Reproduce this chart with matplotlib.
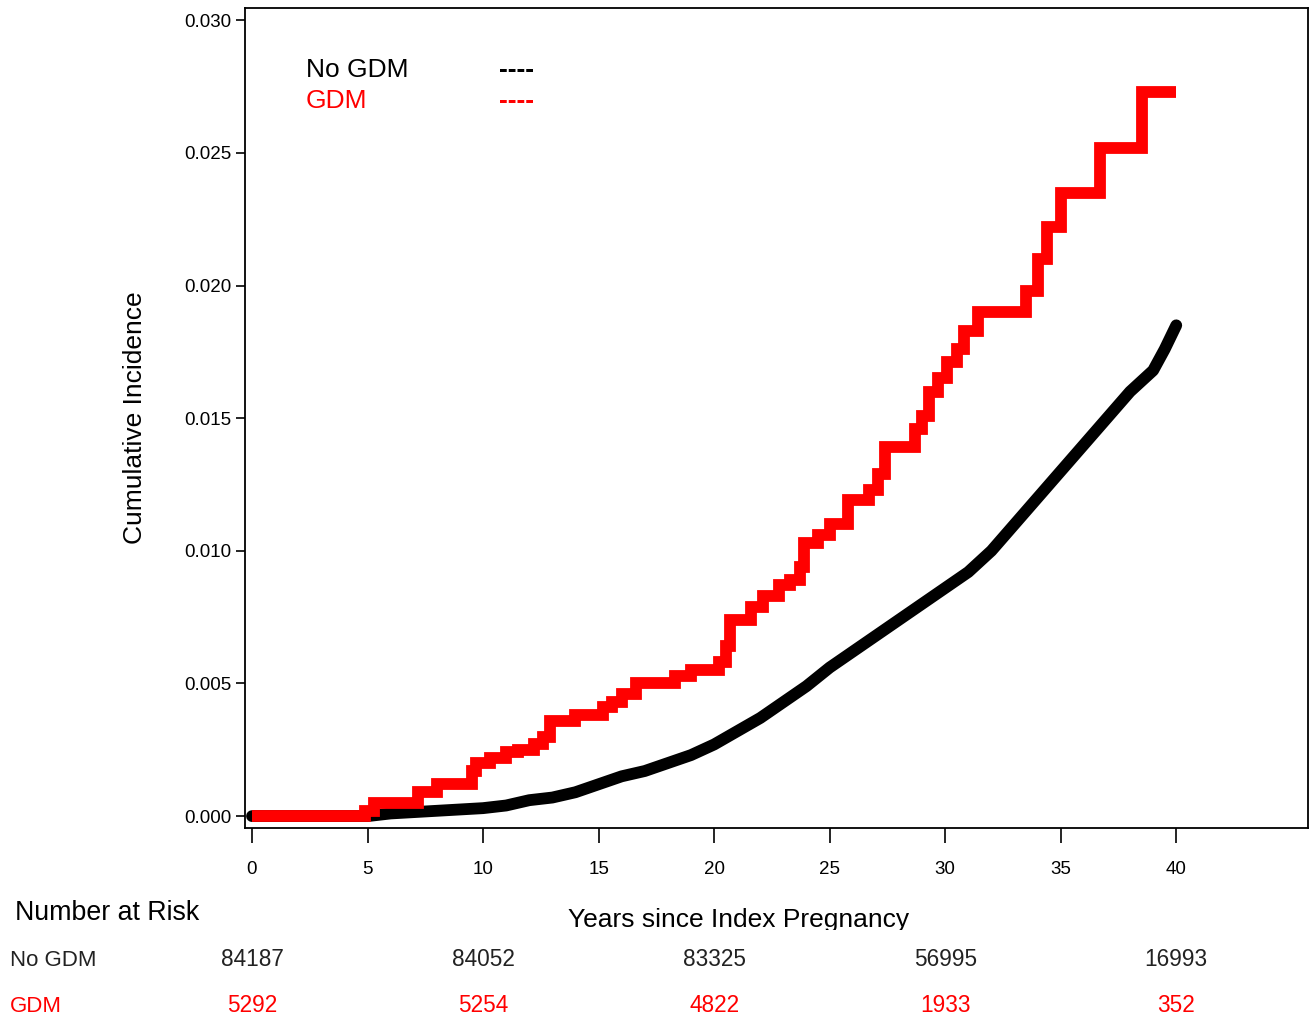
import matplotlib
matplotlib.use('Agg')
import matplotlib.pyplot as plt
from matplotlib.transforms import Bbox, blended_transform_factory

plt.rcParams['font.family'] = ['Liberation Sans', 'DejaVu Sans']

# GDM cumulative incidence (step changes)
red_t = [0, 4.9, 5.3, 7.2, 8.0, 9.5, 9.7, 10.3, 11.0, 11.5, 12.2, 12.6, 12.9, 14.0, 15.2,
         15.6, 16.0, 16.6, 18.3, 19.0, 20.2, 20.5, 20.7, 21.6, 22.1, 22.8, 23.3, 23.7, 23.9,
         24.5, 25.0, 25.8, 26.7, 27.1, 27.4, 28.7, 29.0, 29.3, 29.7, 30.1, 30.5, 30.8, 31.4,
         33.5, 34.0, 34.4, 35.0, 36.7, 38.5, 40.0]
red_v = [0, 0.0002, 0.0005, 0.0009, 0.0012, 0.0017, 0.0020, 0.0022, 0.0024, 0.0025, 0.0027,
         0.0030, 0.0036, 0.0038, 0.0041, 0.0043, 0.0046, 0.0050, 0.0053, 0.0055, 0.0058,
         0.0064, 0.0074, 0.0079, 0.0083, 0.0087, 0.0089, 0.0094, 0.0103, 0.0106, 0.0110,
         0.0119, 0.0123, 0.0129, 0.0139, 0.0146, 0.0151, 0.0160, 0.0165, 0.0171, 0.0176,
         0.0183, 0.0190, 0.0198, 0.0210, 0.0222, 0.0235, 0.0252, 0.0273, 0.0273]

# No GDM cumulative incidence
black_t = [0, 5, 6, 7, 8, 9, 10, 11, 12, 13, 14, 15, 16, 17, 18, 19, 20, 21, 22, 23, 24, 25,
           26, 27, 28, 29, 30, 31, 32, 33, 34, 35, 36, 37, 38, 39, 39.5, 40]
black_v = [0, 0, 0.0001, 0.00015, 0.0002, 0.00025, 0.0003, 0.0004, 0.0006, 0.0007, 0.0009,
           0.0012, 0.0015, 0.0017, 0.0020, 0.0023, 0.0027, 0.0032, 0.0037, 0.0043, 0.0049,
           0.0056, 0.0062, 0.0068, 0.0074, 0.0080, 0.0086, 0.0092, 0.0100, 0.0110, 0.0120,
           0.0130, 0.0140, 0.0150, 0.0160, 0.0168, 0.0176, 0.0185]

# number at risk
risk_years = [0, 10, 20, 30, 40]
risk_nogdm = ['84187', '84052', '83325', '56995', '16993']
risk_gdm = ['5292', '5254', '4822', '1933', '352']

x_ticks = [0, 5, 10, 15, 20, 25, 30, 35, 40]
y_ticks = [0.0, 0.005, 0.010, 0.015, 0.020, 0.025, 0.030]

fig = plt.figure(figsize=(13.14, 10.19), dpi=100)
ax = fig.add_axes([0.1865, 0.1874, 0.8089, 0.8047])

ax.plot(black_t, black_v, color='black', linewidth=8.5, solid_capstyle='round', zorder=2)
ax.plot(red_t, red_v, color='#ff0000', linewidth=8.5, drawstyle='steps-post',
        solid_capstyle='butt', solid_joinstyle='miter', zorder=3)

ax.set_xlim(-0.3, 45.7)
ax.set_ylim(-0.00045, 0.03046)
ax.set_xticks(x_ticks)
ax.set_xticklabels([str(v) for v in x_ticks])
ax.set_yticks(y_ticks)
ax.set_yticklabels(['%.3f' % v for v in y_ticks])
ax.tick_params(axis='x', direction='out', length=11, width=1.2, pad=13, labelsize=13.5)
ax.tick_params(axis='y', direction='out', length=6.5, width=1.2, pad=3, labelsize=13.5)
for s in ax.spines.values():
    s.set_linewidth(1.3)

ax.set_ylabel('Cumulative Incidence', fontsize=19, labelpad=27)

# legend as text
ax.text(0.057, 0.924, 'No GDM', transform=ax.transAxes, fontsize=19, va='center', color='black')
ax.text(0.239, 0.924, '----', transform=ax.transAxes, fontsize=19, va='center',
        color='black', fontweight='bold')
ax.text(0.057, 0.887, 'GDM', transform=ax.transAxes, fontsize=19, va='center', color='#ff0000')
ax.text(0.239, 0.887, '----', transform=ax.transAxes, fontsize=19, va='center',
        color='#ff0000', fontweight='bold')

# x label, clipped at the bottom like the original
xl = fig.text(0.5624, 1 - 920 / 1019, 'Years since Index Pregnancy', fontsize=19,
              ha='center', va='center')
xl.set_clip_box(Bbox.from_extents(0, 1019 - 930, 1314, 1019))
xl.set_clip_on(True)

fig.text(15 / 1314, 1 - 913 / 1019, 'Number at Risk', fontsize=19.3, va='center')
fig.text(10 / 1314, 1 - 960 / 1019, 'No GDM', fontsize=16, va='center', color='#222222')
fig.text(10 / 1314, 1 - 1006 / 1019, 'GDM', fontsize=16, va='center', color='#ff0000')

tr = blended_transform_factory(ax.transData, fig.transFigure)
for yr, a, b in zip(risk_years, risk_nogdm, risk_gdm):
    fig.text(yr, 1 - 960 / 1019, a, transform=tr, fontsize=16.3, ha='center', va='center',
             color='#222222')
    fig.text(yr, 1 - 1006 / 1019, b, transform=tr, fontsize=16.3, ha='center', va='center',
             color='#ff0000')

fig.savefig('out.png', dpi=100)
